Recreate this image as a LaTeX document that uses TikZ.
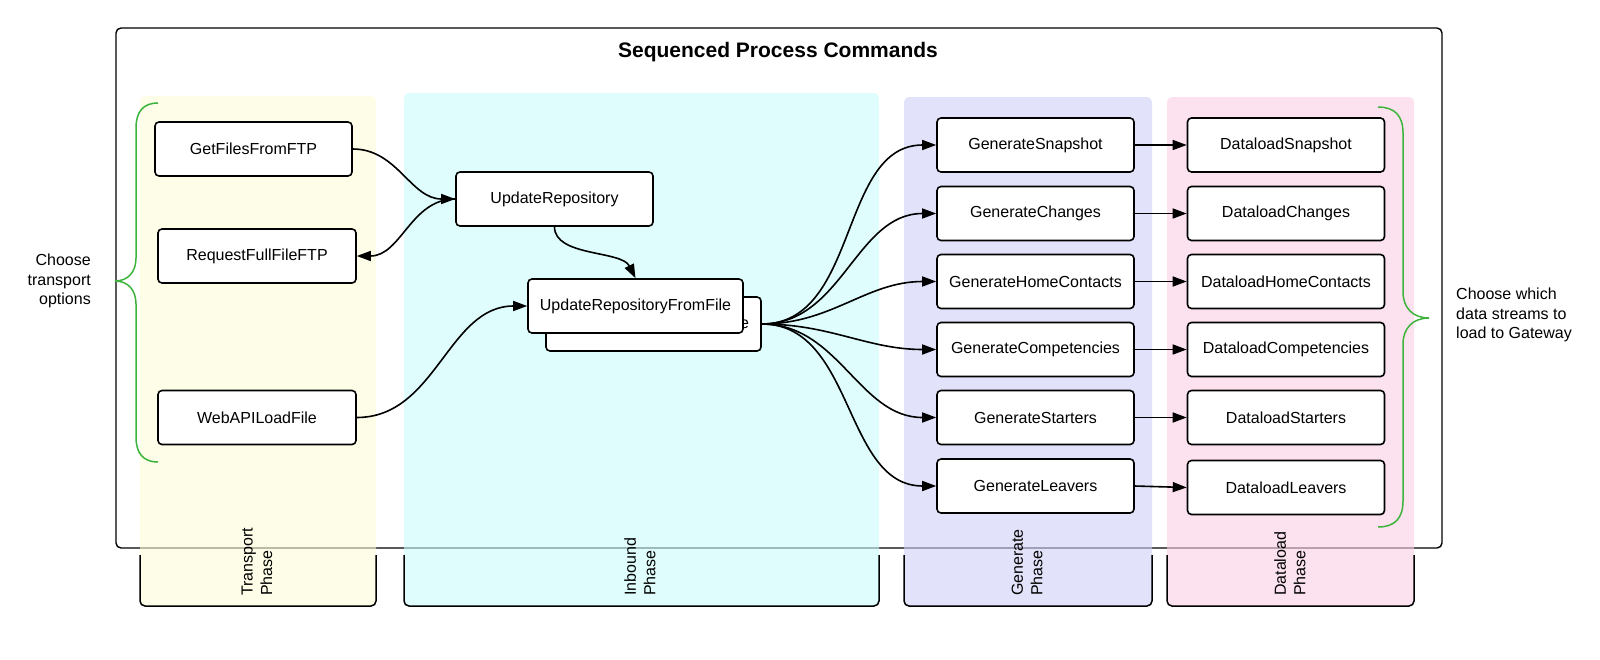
\documentclass[tikz,border=0pt]{standalone}
\usepackage{fontspec}
\setmainfont{Liberation Sans}
\usetikzlibrary{arrows.meta}
\definecolor{trfill}{RGB}{253,253,217}
\definecolor{infill}{RGB}{203,253,253}
\definecolor{gefill}{RGB}{208,208,248}
\definecolor{dlfill}{RGB}{250,208,228}
\definecolor{bracegreen}{RGB}{60,180,60}
\begin{document}
\begin{tikzpicture}[x=1pt,y=-1pt,
  every node/.style={font=\fontsize{16}{19.5}\selectfont},
  procbox/.style={draw, line width=1.6pt, rounded corners=4pt, fill=white,
    minimum width=197pt, minimum height=54pt, inner sep=0pt},
  conn/.style={line width=1.6pt, -{Triangle[length=14pt,width=10pt]}},
  panel/.style={rounded corners=5pt, fill opacity=0.6},
  bracket/.style={line width=1.5pt, rounded corners=5pt},
  phaselabel/.style={rotate=90, anchor=west, align=left, inner sep=0pt},
  brace/.style={draw=bracegreen, line width=1.5pt},
  sidetext/.style={inner sep=0pt}]
\useasboundingbox (0,0) rectangle (1600,659);
\fill[white] (0,0) rectangle (1600,659);

% outer frame
\draw[line width=1.4pt, rounded corners=5pt] (116,28) rectangle (1442,548);
\node[font=\fontsize{21}{24}\selectfont\bfseries, anchor=base] (title) at (778,57) {Sequenced Process Commands};

% phase panels
\fill[panel, fill=trfill] (140,96) rectangle (376,606);
\fill[panel, fill=infill] (404,93) rectangle (879,606);
\fill[panel, fill=gefill] (904,97) rectangle (1152,606);
\fill[panel, fill=dlfill] (1167,97) rectangle (1414,606);

% phase brackets
\draw[bracket] (140,555) -- (140,606) -- (376,606) -- (376,555);
\draw[bracket] (404,555) -- (404,606) -- (879,606) -- (879,555);
\draw[bracket] (904,555) -- (904,606) -- (1152,606) -- (1152,555);
\draw[bracket] (1167,555) -- (1167,606) -- (1414,606) -- (1414,555);

\node[phaselabel] (ltr) at (257,596) {Transport\\Phase};
\node[phaselabel] (lin) at (640,596) {Inbound\\Phase};
\node[phaselabel] (lge) at (1027,596) {Generate\\Phase};
\node[phaselabel] (ldl) at (1290,596) {Dataload\\Phase};

% braces
\draw[brace] (158,103) .. controls (143,103) and (136,112) .. (136,128) -- (136,258)
  .. controls (136,272) and (128,281) .. (115,281)
  .. controls (128,281) and (136,290) .. (136,304) -- (136,437)
  .. controls (136,453) and (143,462) .. (158,462);
\draw[brace] (1378,107) .. controls (1395,107) and (1403,116) .. (1403,133) -- (1403,292)
  .. controls (1403,308) and (1413,318) .. (1429,318)
  .. controls (1413,318) and (1403,328) .. (1403,344) -- (1403,501)
  .. controls (1403,518) and (1395,527) .. (1378,527);

\node[sidetext, align=right, anchor=east] (lefttext) at (91,281) {Choose\\transport\\options};
\node[sidetext, align=left, anchor=west] (righttext) at (1456,315) {Choose which\\data streams to\\load to Gateway};

% transport boxes
\node[procbox] (gf) at (253.5,149) {GetFilesFromFTP};
\node[procbox, minimum width=198pt] (rf) at (257,256) {RequestFullFileFTP};
\node[procbox, minimum width=198pt] (wa) at (257,417.5) {WebAPILoadFile};

% inbound boxes
\node[procbox] (ur) at (554.5,199) {UpdateRepository};
\node[procbox, minimum width=215pt] (urfb) at (653.5,324) {UpdateRepositoryFromFile};
\node[procbox, minimum width=215pt] (urf) at (635.5,306) {UpdateRepositoryFromFile};

% generate boxes
\node[procbox] (g1) at (1035.5,145) {GenerateSnapshot};
\node[procbox] (g2) at (1035.5,213.5) {GenerateChanges};
\node[procbox] (g3) at (1035.5,281.5) {GenerateHomeContacts};
\node[procbox] (g4) at (1035.5,349.5) {GenerateCompetencies};
\node[procbox] (g5) at (1035.5,417.5) {GenerateStarters};
\node[procbox] (g6) at (1035.5,486) {GenerateLeavers};

% dataload boxes
\node[procbox] (d1) at (1286,145) {DataloadSnapshot};
\node[procbox] (d2) at (1286,213.5) {DataloadChanges};
\node[procbox] (d3) at (1286,281.5) {DataloadHomeContacts};
\node[procbox] (d4) at (1286,349.5) {DataloadCompetencies};
\node[procbox] (d5) at (1286,417.5) {DataloadStarters};
\node[procbox] (d6) at (1286,487.5) {DataloadLeavers};

% connectors
\draw[conn] (gf.east) to[out=0,in=180] (ur.west);
\draw[conn] (ur.west) to[out=180,in=0] (rf.east);
\draw[conn] (wa.east) to[out=0,in=180] (urf.west);
\draw[conn] (ur.south) .. controls +(0,30) and +(-14,-28) .. (urf.north);
\foreach \g in {g1,g2,g3,g4,g5,g6}{
  \draw[conn] (urfb.east) to[out=0,in=180] (\g.west);
}
\draw[conn] (g1.east) -- (d1.west);
\draw[conn] (g2.east) -- (d2.west);
\draw[conn] (g3.east) -- (d3.west);
\draw[conn] (g4.east) -- (d4.west);
\draw[conn] (g5.east) -- (d5.west);
\draw[conn] (g6.east) -- (d6.west);
\end{tikzpicture}
\end{document}
